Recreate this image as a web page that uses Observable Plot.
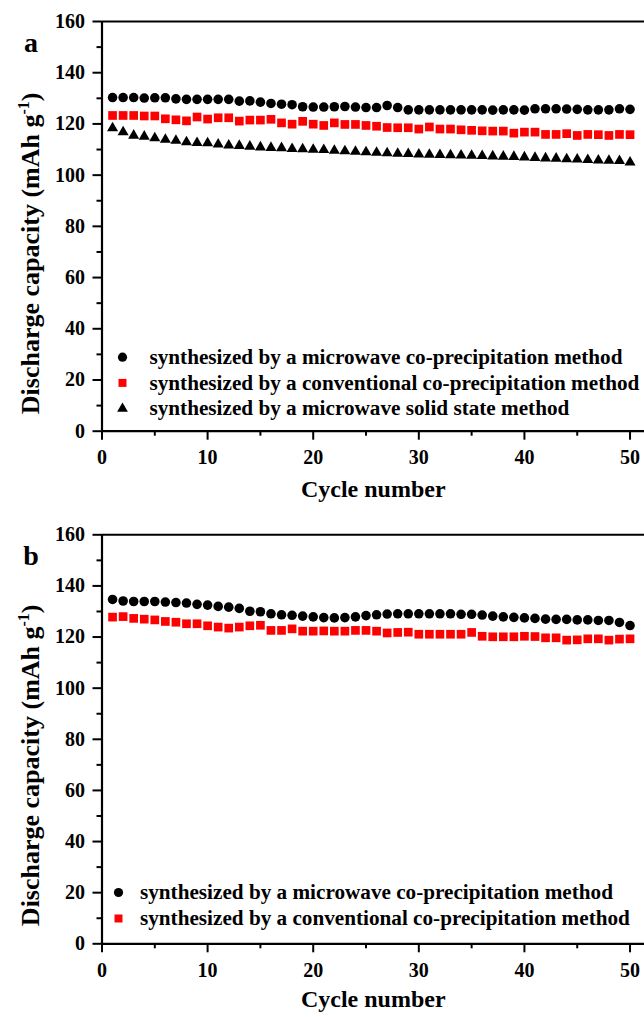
<!DOCTYPE html>
<html>
<head>
<meta charset="utf-8">
<script src="https://cdn.jsdelivr.net/npm/d3@7"></script>
<script src="https://cdn.jsdelivr.net/npm/@observablehq/plot@0.6"></script>
<style>
  html, body { margin: 0; padding: 0; background: #fff; }
  #chart { width: 644px; height: 1017px; overflow: hidden; }
  #chart svg { display: block; overflow: visible; }
  #chart svg text { font-family: 'Liberation Serif', 'Times New Roman', serif !important; font-weight: bold; }
</style>
</head>
<body>
<div id="chart"></div>
<script>
// ---------- data ----------
const cycles = d3.range(1, 51);

// Panel a
const aMicrowaveCoprecip = [
  130.3, 130.3, 130.3, 130.1, 130.2, 130.2, 129.8, 129.6, 129.6, 129.6,
  129.6, 129.6, 128.9, 129.0, 128.5, 128.0, 127.7, 127.5, 126.7, 126.6,
  126.6, 126.7, 126.8, 126.6, 126.4, 126.4, 127.2, 126.4, 125.5, 125.5,
  125.5, 125.5, 125.5, 125.5, 125.5, 125.5, 125.4, 125.5, 125.5, 125.4,
  125.9, 125.9, 125.9, 125.8, 125.7, 125.5, 125.5, 125.5, 125.9, 125.7
];
const aConventionalCoprecip = [
  123.3, 123.3, 123.3, 123.1, 123.1, 122.0, 121.6, 121.2, 122.7, 121.9,
  122.4, 122.4, 121.1, 121.5, 121.5, 121.8, 120.4, 119.9, 121.0, 119.9,
  119.4, 120.4, 119.8, 119.8, 119.4, 119.1, 118.6, 118.5, 118.5, 118.0,
  118.8, 118.0, 118.0, 117.7, 117.5, 117.3, 117.2, 117.2, 116.4, 116.8,
  116.8, 115.9, 115.9, 116.2, 115.5, 115.9, 115.8, 115.5, 115.9, 115.8
];
const aMicrowaveSolid = [
  118.4, 116.8, 115.5, 115.1, 114.5, 113.9, 113.5, 112.9, 112.6, 112.5,
  112.0, 111.6, 111.5, 111.2, 110.9, 110.7, 110.6, 110.3, 110.2, 110.0,
  109.9, 109.6, 109.4, 109.2, 109.0, 108.8, 108.6, 108.4, 108.3, 108.1,
  108.0, 107.9, 107.8, 107.7, 107.6, 107.5, 107.4, 107.3, 107.2, 107.0,
  106.8, 106.6, 106.5, 106.3, 106.2, 106.0, 105.8, 105.7, 105.6, 105.0
];

// Panel b
const bMicrowaveCoprecip = [
  134.7, 134.1, 133.9, 133.9, 133.9, 133.7, 133.5, 133.3, 132.8, 132.5,
  132.0, 131.7, 131.2, 130.1, 129.9, 129.1, 128.7, 128.5, 128.2, 127.9,
  127.6, 127.5, 127.6, 127.9, 128.4, 128.7, 129.0, 129.1, 129.1, 129.1,
  129.1, 129.1, 129.1, 128.9, 128.9, 128.6, 128.2, 127.9, 127.7, 127.5,
  127.3, 127.0, 126.9, 126.9, 126.7, 126.7, 126.5, 126.5, 125.7, 124.5
];
const bConventionalCoprecip = [
  127.8, 128.0, 127.3, 127.0, 126.7, 126.1, 125.8, 125.2, 125.2, 124.4,
  123.9, 123.5, 123.9, 124.4, 124.6, 122.6, 122.6, 123.2, 122.3, 122.3,
  122.4, 122.3, 122.3, 122.6, 122.6, 122.3, 121.6, 121.8, 121.9, 121.1,
  121.1, 121.1, 121.1, 121.1, 121.8, 120.3, 120.1, 120.1, 120.1, 120.3,
  120.2, 119.7, 119.7, 118.8, 118.9, 119.3, 119.3, 118.8, 119.2, 119.3
];

const seriesNames = [
  "synthesized by a microwave co-precipitation method",
  "synthesized by a conventional co-precipitation method",
  "synthesized by a microwave solid state method"
];
const yMajorTicks = [0, 20, 40, 60, 80, 100, 120, 140, 160];
const yMinorTicks = [10, 30, 50, 70, 90, 110, 130, 150];
const xMajorTicks = [0, 10, 20, 30, 40, 50];
const xMinorTicks = [5, 15, 25, 35, 45];
const yDomain = [0, 160];
const xDomain = [0, 51.37];
const xLabel = "Cycle number";
const yLabelMain = "Discharge capacity (mAh g";
const yLabelSup = "-1";
const yLabelTail = ")";
const panelLetters = ["a", "b"];

// ---------- styles ----------
const FONT = "'Liberation Serif', 'Times New Roman', serif";
const seriesStyle = [
  { symbol: "circle",   fill: "#000000", r: 4.8, legendR: 4.6 },
  { symbol: "square",   fill: "#ff0000", r: 4.9, legendR: 4.5 },
  { symbol: "triangle", fill: "#000000", r: 4.1, legendR: 4.0 }
];

function makePanel({ letter, series, height, marginTop, marginBottom, legend, xLabelDy, yLabelDy }) {
  const marks = [];
  // frame lines (top, left, bottom)
  marks.push(Plot.ruleY([yDomain[1]], { stroke: "#000", strokeWidth: 2 }));
  marks.push(Plot.ruleY([yDomain[0]], { stroke: "#000", strokeWidth: 2.2 }));
  marks.push(Plot.ruleX([xDomain[0]], { stroke: "#000", strokeWidth: 2.2 }));

  // axes
  marks.push(Plot.axisY(yMajorTicks, {
    anchor: "left", tickSize: 9, tickPadding: 8, strokeWidth: 2,
    fontSize: 20, fontWeight: "bold", fontFamily: FONT, label: null, tickFormat: d => String(d)
  }));
  marks.push(Plot.axisY(yMinorTicks, {
    anchor: "left", tickSize: 5, strokeWidth: 2, text: null, label: null
  }));
  marks.push(Plot.axisX(xMajorTicks, {
    anchor: "bottom", tickSize: 9, tickPadding: 10, strokeWidth: 2,
    fontSize: 20, fontWeight: "bold", fontFamily: FONT, label: null, tickFormat: d => String(d)
  }));
  marks.push(Plot.axisX(xMinorTicks, {
    anchor: "bottom", tickSize: 5, strokeWidth: 2, text: null, label: null
  }));

  // data series
  series.forEach((vals, s) => {
    const st = seriesStyle[s];
    const rows = vals.map((v, i) => ({ cycle: cycles[i], value: v }));
    marks.push(Plot.dot(rows, {
      x: "cycle", y: "value", symbol: st.symbol, r: st.r, fill: st.fill, stroke: "none"
    }));
  });

  // legend
  series.forEach((vals, s) => {
    const st = seriesStyle[s];
    marks.push(Plot.dot([seriesNames[s]], {
      frameAnchor: "bottom-left", dx: legend.markerDx, dy: legend.rowDy[s],
      symbol: st.symbol, r: st.legendR, fill: st.fill, stroke: "none"
    }));
    marks.push(Plot.text([seriesNames[s]], {
      frameAnchor: "bottom-left", dx: legend.textDx, dy: legend.rowDy[s],
      textAnchor: "start", lineAnchor: "middle",
      fontSize: legend.fontSize, fontWeight: "bold", fontFamily: FONT, fill: "#000"
    }));
  });

  // panel letter
  marks.push(Plot.text([letter], {
    frameAnchor: "top-left", dx: -71, dy: 21.5, textAnchor: "middle", lineAnchor: "middle",
    fontSize: 28, fontWeight: "bold", fontFamily: FONT, fill: "#000"
  }));

  // axis titles
  marks.push(Plot.text([xLabel], {
    frameAnchor: "bottom", dy: xLabelDy, lineAnchor: "middle", textAnchor: "middle",
    fontSize: 24, fontWeight: "bold", fontFamily: FONT, fill: "#000"
  }));
  marks.push(Plot.text([yLabelMain], {
    frameAnchor: "left", dx: -71.5, dy: yLabelDy, rotate: -90,
    lineAnchor: "middle", textAnchor: "middle",
    fontSize: 26, fontWeight: "bold", fontFamily: FONT, fill: "#000"
  }));

  const svg = Plot.plot({
    width: 644,
    height,
    marginLeft: 101.5,
    marginRight: 0,
    marginTop,
    marginBottom,
    x: { domain: xDomain },
    y: { domain: yDomain },
    style: { fontFamily: FONT, fontWeight: "bold", fontSize: "20px", color: "#000", background: "#fff", overflow: "visible" },
    marks
  });
  return svg;
}

const chart = document.getElementById("chart");

const svgA = makePanel({
  letter: panelLetters[0],
  series: [aMicrowaveCoprecip, aConventionalCoprecip, aMicrowaveSolid],
  height: 508, marginTop: 21, marginBottom: 77.3,
  legend: { markerDx: 20.5, textDx: 47.5, rowDy: [-74, -48.3, -22.5], fontSize: 21.2 },
  xLabelDy: 58, yLabelDy: 27
});
const svgB = makePanel({
  letter: panelLetters[1],
  series: [bMicrowaveCoprecip, bConventionalCoprecip],
  height: 509, marginTop: 26.3, marginBottom: 73.7,
  legend: { markerDx: 16.5, textDx: 38, rowDy: [-51.3, -25.3], fontSize: 21.2 },
  xLabelDy: 56, yLabelDy: 26
});
chart.appendChild(svgA);
chart.appendChild(svgB);

// superscript in y-axis title
[svgA, svgB].forEach(svg => {
  d3.select(svg).selectAll("text")
    .filter(function () { return this.textContent === yLabelMain; })
    .each(function () {
      const t = d3.select(this);
      t.append("tspan").attr("dy", "-10").attr("font-size", 16).text(yLabelSup);
      t.append("tspan").attr("dy", "10").attr("font-size", 26).text(yLabelTail);
    });
});
</script>
</body>
</html>
